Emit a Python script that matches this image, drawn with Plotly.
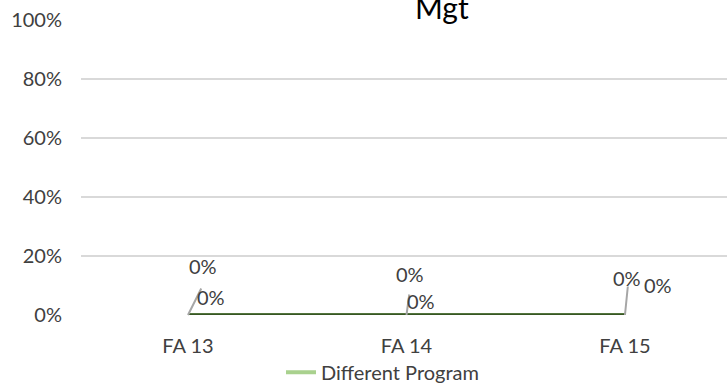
import plotly.graph_objects as go

categories = ["FA 13", "FA 14", "FA 15"]
different_program = [0, 0, 0]
second_series = [0, 0, 0]
y_ticks = [0, 0.2, 0.4, 0.6, 0.8, 1.0]
y_tick_labels = ["0%", "20%", "40%", "60%", "80%", "100%"]
title_text = "Mgt"

FONT = "Lato, Carlito, Calibri, sans-serif"
TXT = "#404040"

W, H = 727, 392
ML, MT, MB = 81, 20, 72
PW = W - ML

fig = go.Figure()
fig.add_trace(go.Scatter(
    x=categories, y=different_program, mode="lines", name="Different Program",
    line=dict(color="#A9D18E", width=4), showlegend=True, hoverinfo="skip"))
fig.add_trace(go.Scatter(
    x=categories, y=second_series, mode="lines", name="",
    line=dict(color="#375623", width=3.5), showlegend=False, hoverinfo="skip"))

# data label offsets (pixels)
top_off = [(15, 49), (4, 41), (2, 37)]
low_off = [(23, 18), (15, 14), (33, 30)]
lead_off = [(14, -28), (3, -22), (3, -30)]

for i, c in enumerate(categories):
    fig.add_annotation(x=c, y=second_series[i], text="", showarrow=True,
                       ax=lead_off[i][0], ay=lead_off[i][1], axref="pixel", ayref="pixel",
                       arrowhead=0, arrowwidth=2, arrowcolor="#A6A6A6", standoff=0)
    fig.add_annotation(x=c, y=different_program[i], text=f"{different_program[i]:.0%}",
                       showarrow=False, xshift=top_off[i][0], yshift=top_off[i][1],
                       font=dict(family=FONT, size=20, color=TXT))
    fig.add_annotation(x=c, y=second_series[i], text=f"{second_series[i]:.0%}",
                       showarrow=False, xshift=low_off[i][0], yshift=low_off[i][1],
                       font=dict(family=FONT, size=20, color=TXT))

fig.add_annotation(text=title_text, xref="paper", yref="paper", x=(442 - ML) / PW, y=1,
                   xanchor="center", yanchor="bottom", yshift=-7, showarrow=False,
                   font=dict(family=FONT, size=30, color="#000000"))

fig.update_layout(
    width=W, height=H,
    margin=dict(l=ML, r=0, t=MT, b=MB),
    paper_bgcolor="white", plot_bgcolor="white",
    font=dict(family=FONT, size=20, color=TXT),
    showlegend=True,
    hovermode=False,
    legend=dict(orientation="h", x=(281 - ML) / PW, y=-0.128,
                xanchor="left", yanchor="top",
                font=dict(family=FONT, size=20, color=TXT),
                bgcolor="rgba(0,0,0,0)"),
    xaxis=dict(type="category", range=[-0.4897, 2.467], showgrid=False, zeroline=False,
               showline=False, ticks="", ticklabelstandoff=17,
               tickfont=dict(family=FONT, size=20, color=TXT)),
    yaxis=dict(range=[0, 1], tickvals=y_ticks, ticktext=y_tick_labels,
               showgrid=True, gridcolor="#D9D9D9", gridwidth=2, zeroline=False,
               showline=False, ticks="", ticklabelstandoff=18, ticklabeloverflow="allow",
               tickfont=dict(family=FONT, size=20, color=TXT)),
)

fig.write_html("out.html", config={"displayModeBar": False},
               post_script="document.body.style.margin='0';document.body.style.overflow='hidden';")
